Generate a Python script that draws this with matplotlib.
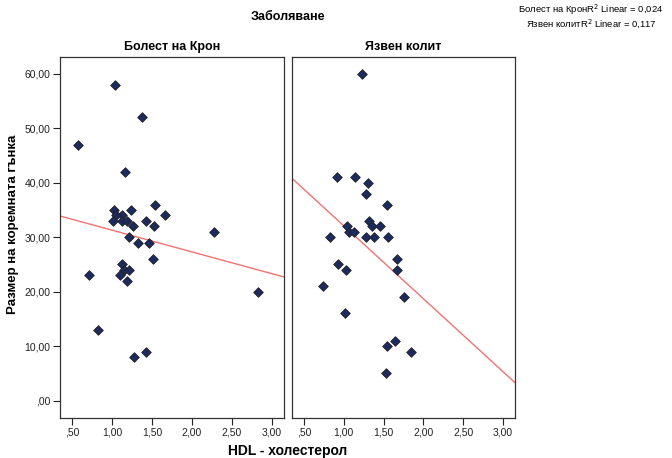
import matplotlib
matplotlib.use("Agg")
import matplotlib.pyplot as plt
from matplotlib.ticker import FuncFormatter

plt.rcParams['font.family'] = ['Liberation Sans', 'DejaVu Sans']

title = "Заболяване"
panels = ["Болест на Крон", "Язвен колит"]
xlabel = "HDL - холестерол"
ylabel = "Размер на коремната гънка"

crohn_x = [1.04, 1.37, 0.58, 1.16, 1.03, 1.24, 1.54, 1.13, 1.05, 1.66, 1.01, 1.13,
           1.19, 1.42, 1.26, 1.52, 2.28, 1.21, 1.32, 1.46, 1.51, 1.13, 1.15, 1.21,
           1.10, 0.71, 1.19, 2.82, 0.83, 1.42, 1.28]
crohn_y = [58, 52, 47, 42, 35, 35, 36, 34, 34, 34, 33, 33,
           33, 33, 32, 32, 31, 30, 29, 29, 26, 25, 24, 24,
           23, 23, 22, 20, 13, 9, 8]

colitis_x = [1.23, 0.92, 1.14, 1.30, 1.28, 1.54, 1.32, 1.35, 1.45, 1.04, 1.07, 1.13,
             0.83, 1.28, 1.38, 1.55, 1.67, 1.67, 0.93, 1.03, 0.74, 1.75, 1.01, 1.64,
             1.54, 1.84, 1.53]
colitis_y = [60, 41, 41, 40, 38, 36, 33, 32, 32, 32, 31, 31,
             30, 30, 30, 30, 26, 24, 25, 24, 21, 19, 16, 11,
             10, 9, 5]

# fit lines (intercept, slope)
fit_intercept = [35.3, 45.5]
fit_slope = [-4.0, -13.4]
r2_labels = ["Болест на КронR$^2$ Linear = 0,024", "Язвен колитR$^2$ Linear = 0,117"]

xticks = [0.5, 1.0, 1.5, 2.0, 2.5, 3.0]
yticks = [0, 10, 20, 30, 40, 50, 60]

def fmt(v, pos=None):
    s = f"{v:.2f}".replace(".", ",")
    if s.startswith("0,"):
        s = s[1:]
    return s

W, H = 672, 458
fig = plt.figure(figsize=(W / 100, H / 100), dpi=100)

def ax_rect(x0, x1, y0, y1):
    return [x0 / W, (H - y1) / H, (x1 - x0) / W, (y1 - y0) / H]

ax1 = fig.add_axes(ax_rect(60, 284, 57, 418))
ax2 = fig.add_axes(ax_rect(292, 515, 57, 418))

xlim = (0.35, 3.15)
ylim = (-3.2, 63.1)
data = [(crohn_x, crohn_y), (colitis_x, colitis_y)]
for i, ax in enumerate([ax1, ax2]):
    xs, ys = data[i]
    ax.set_xlim(*xlim)
    ax.set_ylim(*ylim)
    lx = list(xlim)
    ly = [fit_intercept[i] + fit_slope[i] * v for v in lx]
    ax.plot(lx, ly, color="#f27272", lw=1.0, zorder=2)
    ax.scatter(xs, ys, marker="D", s=24, facecolor="#1c2a5e", edgecolor="#222222",
               linewidths=0.6, zorder=3)
    ax.set_xticks(xticks)
    ax.xaxis.set_major_formatter(FuncFormatter(fmt))
    ax.tick_params(axis="x", direction="out", length=5, width=0.8, labelsize=7.5,
                   pad=2, colors="#222222")
    for sp in ax.spines.values():
        sp.set_color("#333333")
        sp.set_linewidth(0.9)
    ax.set_title(panels[i], fontsize=9, fontweight="bold", pad=5)

ax1.set_yticks(yticks)
ax1.yaxis.set_major_formatter(FuncFormatter(fmt))
ax1.tick_params(axis="y", direction="out", length=5, width=0.8, labelsize=7.5,
                pad=2, colors="#222222")
ax2.set_yticks([])

fig.text(13 / W, 1 - 224 / H, ylabel, ha="center", va="center", rotation=90,
         fontsize=9.5, fontweight="bold")
fig.text(288 / W, 1 - 17 / H, title, ha="center", va="center", fontsize=9,
         fontweight="bold")
fig.text(288 / W, 1 - 451 / H, xlabel, ha="center", va="center", fontsize=10,
         fontweight="bold")
fig.text(591 / W, 1 - 10 / H, r2_labels[0], ha="center", va="center", fontsize=6.8)
fig.text(591 / W, 1 - 24 / H, r2_labels[1], ha="center", va="center", fontsize=6.8)

fig.savefig("out.png", dpi=100)
